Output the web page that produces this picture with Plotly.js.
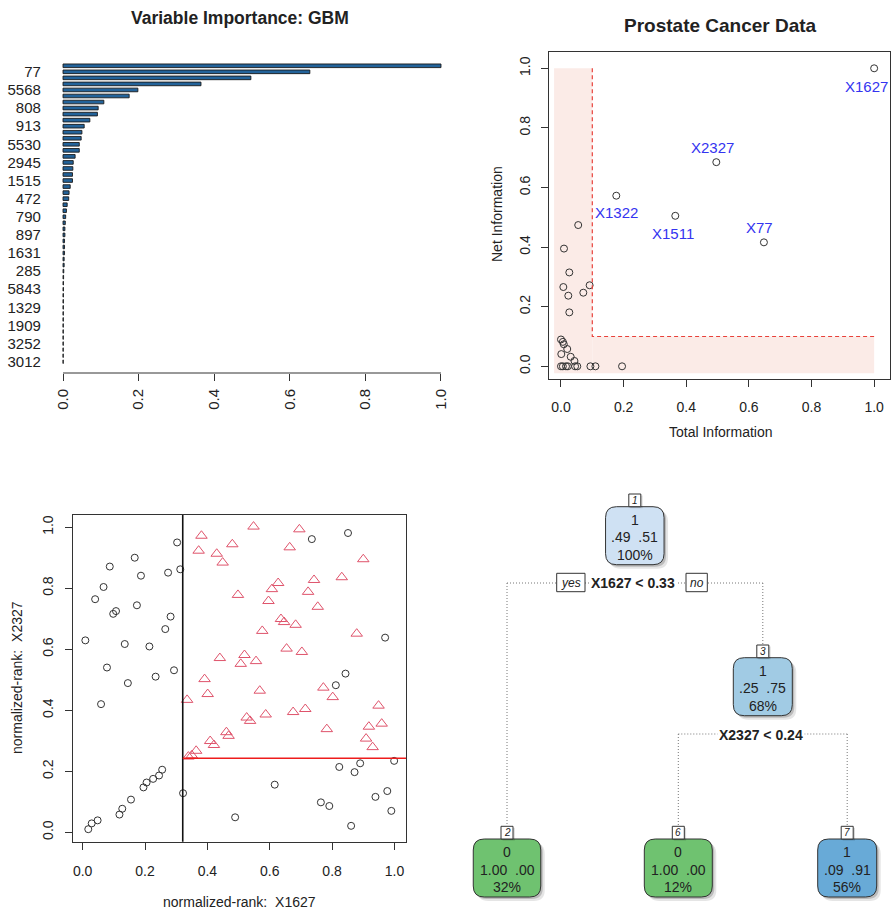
<!DOCTYPE html>
<html><head><meta charset="utf-8">
<script src="https://cdn.plot.ly/plotly-3.0.1.min.js"></script>
<style>html,body{margin:0;padding:0;background:#fff}</style>
</head><body><div id="chart" style="width:893px;height:912px"></div>
<script>
// ---------- Panel 1: Variable Importance: GBM (bottom bar first) ----------
const gbmImportance = [0.0005,0.0005,0.0005,0.0006,0.0006,0.0007,0.0007,0.0008,0.0008,0.0009,
  0.001,0.001,0.0012,0.0012,0.0015,0.002,0.003,0.003,0.004,0.004,
  0.004,0.005,0.005,0.006,0.007,0.009,0.011,0.015,0.016,0.019,
  0.025,0.025,0.026,0.027,0.032,0.043,0.043,0.048,0.050,0.056,
  0.071,0.091,0.093,0.108,0.175,0.198,0.365,0.497,0.653,1.0];
const gbmLabels = ['3012','3252','1909','1329','5843','285','1631','897','790','472','1515','2945','5530','913','808','5568','77'];
const gbmTicks = ['0.0','0.2','0.4','0.6','0.8','1.0'];

// ---------- Panel 2: Prostate Cancer Data ----------
const totalInfo = [1.0,0.496,0.1766,0.365,0.648,0.055,0.0096,0.0266,0.0075,0.0915,0.0234,0.0713,0.0266,
  0.0,0.006,0.009,0.020,0.001,0.031,0.043,
  0.0,0.006,0.016,0.022,0.045,0.052,0.094,0.110,0.195];
const netInfo = [1.0,0.685,0.5725,0.505,0.416,0.474,0.395,0.315,0.266,0.272,0.237,0.247,0.181,
  0.090,0.082,0.074,0.058,0.041,0.032,0.018,
  0,0,0,0,0,0,0,0,0];
const labelNames = ['X1627','X2327','X1322','X1511','X77'];
const labelShift = [[-8,-18],[-4,15],[0,-17],[-2,-18],[-4,15]];
const infoThreshold = 0.1;

// ---------- Panel 3: normalized ranks ----------
const rank0X = [0.0086,0.040,0.067,0.087,0.078,0.059,0.098,0.107,0.135,0.145,0.167,0.174,0.187,0.214,0.234,0.265,0.274,0.282,0.293,0.303,0.313,
  0.735,0.851,0.970,0.843,0.812,0.999,0.823,0.890,0.872,
  0.018,0.029,0.048,0.118,0.127,0.155,0.195,0.205,0.226,0.245,0.255,0.322,0.489,0.616,0.764,0.791,0.861,0.939,0.977,0.990];
const rank0Y = [0.629,0.764,0.804,0.871,0.540,0.420,0.716,0.725,0.617,0.489,0.900,0.744,0.841,0.609,0.510,0.666,0.851,0.707,0.531,0.950,0.862,
  0.961,0.981,0.638,0.520,0.482,0.234,0.214,0.226,0.197,
  0.010,0.029,0.039,0.058,0.077,0.107,0.147,0.163,0.175,0.186,0.205,0.128,0.049,0.156,0.098,0.086,0.021,0.116,0.135,0.070];
const rank1X = [0.335,0.381,0.372,0.391,0.401,0.409,0.421,0.430,0.449,0.440,0.461,0.468,0.480,0.498,0.507,0.519,0.526,0.537,0.548,0.556,
  0.568,0.576,0.587,0.596,0.607,0.627,0.636,0.646,0.654,0.664,0.675,0.683,0.695,0.703,0.714,0.723,0.742,0.754,0.772,0.783,
  0.802,0.831,0.879,0.900,0.909,0.918,0.930,0.949,0.959,0.339,0.350,0.364];
const rank1Y = [0.434,0.972,0.923,0.502,0.453,0.299,0.286,0.913,0.884,0.571,0.328,0.316,0.944,0.778,0.552,0.581,0.376,0.365,1.002,0.561,
  0.464,0.660,0.386,0.758,0.797,0.817,0.699,0.689,0.602,0.934,0.394,0.680,0.993,0.591,0.404,0.788,0.827,0.739,0.474,0.338,
  0.443,0.836,0.651,0.895,0.307,0.346,0.279,0.415,0.356,0.248,0.252,0.267];
const splitX1627 = 0.321;
const splitX2327 = 0.2426;

// ---------- Panel 4: tree ----------
const nodeIds   = ['1','3','2','6','7'];
const nodeClass = ['1','1','0','0','1'];
const nodeProbs = ['.49\u00a0\u00a0.51','.25\u00a0\u00a0.75','1.00\u00a0\u00a0.00','1.00\u00a0\u00a0.00','.09\u00a0\u00a0.91'];
const nodePct   = ['100%','68%','32%','12%','56%'];
const nodeFill  = ['#cfe1f3','#a1cbe4','#6fc270','#6fc270','#68aad7'];
const splitText = ['X1627 < 0.33','X2327 < 0.24'];

// ---------- helpers (pixel -> paper) ----------
const W = 893, H = 912;
const PX = x => x / W, PY = y => 1 - y / H;
const FONT = 'Liberation Sans, Arial, sans-serif';
const TXT = '#222';

function baseAxis(extra) {
  return Object.assign({showgrid:false, zeroline:false, ticks:'outside', ticklen:7, tickwidth:1,
    tickcolor:'#333', showline:true, mirror:true, linecolor:'#333', linewidth:1,
    tickfont:{family:FONT,size:14,color:TXT}, fixedrange:true}, extra);
}

const traces = [];
traces.push({type:'bar', orientation:'h', x:gbmImportance, y:gbmImportance.map((v,i)=>i+1),
  width:0.6, marker:{color:'#23639a', line:{color:'#1a1a1a', width:0.9}}, xaxis:'x', yaxis:'y', hoverinfo:'skip'});
traces.push({type:'scatter', mode:'markers', x:totalInfo, y:netInfo, xaxis:'x2', yaxis:'y2',
  marker:{symbol:'circle-open', size:7, color:'#333', line:{width:1}}, hoverinfo:'skip'});
traces.push({type:'scatter', mode:'markers', x:rank0X, y:rank0Y, xaxis:'x3', yaxis:'y3',
  marker:{symbol:'circle-open', size:7, color:'#333', line:{width:1}}, hoverinfo:'skip'});
traces.push({type:'scatter', mode:'markers', x:rank1X, y:rank1Y, xaxis:'x3', yaxis:'y3',
  marker:{symbol:'triangle-up-open', size:10, color:'#DF536B', line:{width:1}}, hoverinfo:'skip'});

const shapes = [], annotations = [];

// Panel 1 axis line (0..1)
shapes.push({type:'line', xref:'x', yref:'paper', x0:0, x1:1, y0:PY(373), y1:PY(373), line:{color:'#333',width:1}});

// Panel 2 shaded L region + dashed threshold line
shapes.push({type:'rect', xref:'x2', yref:'y2', x0:-0.022, x1:infoThreshold, y0:-0.023, y1:1.0, fillcolor:'#fbebe7', line:{width:0}, layer:'below'});
shapes.push({type:'rect', xref:'x2', yref:'y2', x0:infoThreshold, x1:1.0, y0:-0.023, y1:infoThreshold, fillcolor:'#fbebe7', line:{width:0}, layer:'below'});
shapes.push({type:'path', xref:'x2', yref:'y2',
  path:`M ${infoThreshold},1 L ${infoThreshold},${infoThreshold} L 1,${infoThreshold}`,
  line:{color:'#e8413a', width:1.2, dash:'4px,3px'}});
labelNames.forEach((n,i)=>{
  annotations.push({xref:'x2', yref:'y2', x:totalInfo[i], y:netInfo[i], text:n, showarrow:false,
    xshift:labelShift[i][0], yshift:labelShift[i][1], font:{family:FONT,size:15,color:'#3434f0'}});
});

// Panel 3 split lines
shapes.push({type:'line', xref:'x3', yref:'paper', x0:splitX1627, x1:splitX1627, y0:PY(841.7), y1:PY(515), line:{color:'#111',width:1.6}});
shapes.push({type:'line', xref:'x3', yref:'y3', x0:splitX1627, x1:1.037, y0:splitX2327, y1:splitX2327, line:{color:'#ee1c1c',width:1.6}});

// Titles
function ann(x,y,text,size,opts){ annotations.push(Object.assign({xref:'paper',yref:'paper',x:PX(x),y:PY(y),text,showarrow:false,
  xanchor:'center',yanchor:'middle',font:{family:FONT,size,color:TXT}},opts||{})); }
ann(240,18,'<b>Variable Importance: GBM</b>',17.5);
ann(720,25,'<b>Prostate Cancer Data</b>',19);
ann(720.7,432,'Total Information',14);
ann(497,214,'Net Information',14,{textangle:-90});
ann(239,901.7,'normalized-rank:\u00a0\u00a0X1627',14);
ann(17,678,'normalized-rank:\u00a0\u00a0X2327',14,{textangle:-90});

// ---------- Tree drawing ----------
function P(x,y){ return PX(x)+','+PY(y); }
function rrect(x0,y0,x1,y1,r){
  return `M ${P(x0+r,y0)} L ${P(x1-r,y0)} Q ${P(x1,y0)} ${P(x1,y0+r)} L ${P(x1,y1-r)} Q ${P(x1,y1)} ${P(x1-r,y1)} `+
         `L ${P(x0+r,y1)} Q ${P(x0,y1)} ${P(x0,y1-r)} L ${P(x0,y0+r)} Q ${P(x0,y0)} ${P(x0+r,y0)} Z`;
}
const nodeCx  = [634.8, 762.8, 507.0, 678.3, 847.2];
const nodeTop = [506.7, 657.7, 839.0, 839.0, 839.0];
const nodeW   = [58.5, 59.0, 67.5, 68.0, 59.0];
const nodeH   = 58;
function dotted(x0,y0,x1,y1){ shapes.push({type:'line',xref:'paper',yref:'paper',x0:PX(x0),y0:PY(y0),x1:PX(x1),y1:PY(y1),
  line:{color:'#777',width:1,dash:'1px,2px'}}); }
// edges
dotted(507,583,762.8,583);
dotted(507,583,507,826);
dotted(762.8,583,762.8,645.3);
dotted(678.3,734,847.2,734);
dotted(678.3,734,678.3,826);
dotted(847.2,734,847.2,826);

nodeIds.forEach((id,i)=>{
  const cx=nodeCx[i], t=nodeTop[i], w=nodeW[i];
  const x0=cx-w/2, x1=cx+w/2, y1=t+nodeH;
  shapes.push({type:'path', xref:'paper', yref:'paper', path:rrect(x0+4,t+4,x1+4,y1+4,11), fillcolor:'rgba(0,0,0,0.10)', line:{width:0}});
  shapes.push({type:'path', xref:'paper', yref:'paper', path:rrect(x0+2,t+2,x1+2,y1+2,11), fillcolor:'rgba(0,0,0,0.18)', line:{width:0}});
  shapes.push({type:'path', xref:'paper', yref:'paper', path:rrect(x0,t,x1,y1,11), fillcolor:nodeFill[i], line:{color:'#333',width:1}});
  // id box
  shapes.push({type:'rect', xref:'paper', yref:'paper', x0:PX(cx-4.5), x1:PX(cx+7.8), y0:PY(t+1.5), y1:PY(t-11.2), fillcolor:'rgba(0,0,0,0.15)', line:{width:0}});
  shapes.push({type:'rect', xref:'paper', yref:'paper', x0:PX(cx-6), x1:PX(cx+6), y0:PY(t), y1:PY(t-12.7), fillcolor:'#fff', line:{color:'#333',width:1}});
  ann(cx, t-6.3, '<i>'+id+'</i>', 10);
  ann(cx, t+13, nodeClass[i], 14);
  ann(cx, t+30.5, nodeProbs[i], 14);
  ann(cx, t+48, nodePct[i], 14);
});
// split labels
ann(633.3, 583.3, '<b>'+splitText[0]+'</b>', 14, {bgcolor:'#fff', borderpad:1});
ann(761, 735, '<b>'+splitText[1]+'</b>', 14, {bgcolor:'#fff', borderpad:1});
// yes / no boxes
shapes.push({type:'rect', xref:'paper', yref:'paper', x0:PX(556.7), x1:PX(585), y0:PY(591.7), y1:PY(573.3), fillcolor:'#fff', line:{color:'#333',width:1}});
shapes.push({type:'rect', xref:'paper', yref:'paper', x0:PX(686), x1:PX(707.3), y0:PY(591.7), y1:PY(573.3), fillcolor:'#fff', line:{color:'#333',width:1}});
ann(570.8, 582.5, '<i>yes</i>', 12);
ann(696.7, 582.5, '<i>no</i>', 12);

const layout = {
  width:W, height:H, autosize:false, margin:{l:0,r:0,t:0,b:0},
  paper_bgcolor:'#fff', plot_bgcolor:'rgba(0,0,0,0)', showlegend:false, font:{family:FONT,color:TXT},
  xaxis: baseAxis({domain:[PX(47.9),PX(456.1)], range:[-0.04,1.04], anchor:'y', showline:false, mirror:false,
    tickvals:[0,0.2,0.4,0.6,0.8,1.0], ticktext:gbmTicks, tickangle:-90, ticklabelstandoff:2, tickfont:{family:FONT,size:15,color:TXT}}),
  yaxis: baseAxis({domain:[PY(373),PY(54.5)], range:[-0.87,51.87], anchor:'x', showline:false, mirror:false,
    ticks:'', tickvals:gbmLabels.map((v,k)=>1+3*k), ticktext:gbmLabels, ticklabelstandoff:6, tickfont:{family:FONT,size:15,color:TXT}}),
  xaxis2: baseAxis({domain:[PX(549.3),PX(890)], range:[-0.0373,1.0506], anchor:'y2', dtick:0.2, tickformat:'.1f', ticklabelstandoff:8}),
  yaxis2: baseAxis({domain:[PY(379),PY(52.3)], range:[-0.0426,1.0537], anchor:'x2', dtick:0.2, tickformat:'.1f', tickangle:-90, ticklabelstandoff:6}),
  xaxis3: baseAxis({domain:[PX(73.3),PX(406)], range:[-0.030,1.037], anchor:'y3', dtick:0.2, tickformat:'.1f', ticklabelstandoff:9}),
  yaxis3: baseAxis({domain:[PY(841.7),PY(515)], range:[-0.031,1.040], anchor:'x3', dtick:0.2, tickformat:'.1f', tickangle:-90, ticklabelstandoff:7}),
  shapes, annotations
};
Plotly.newPlot('chart', traces, layout, {staticPlot:true, displayModeBar:false});
</script></body></html>
